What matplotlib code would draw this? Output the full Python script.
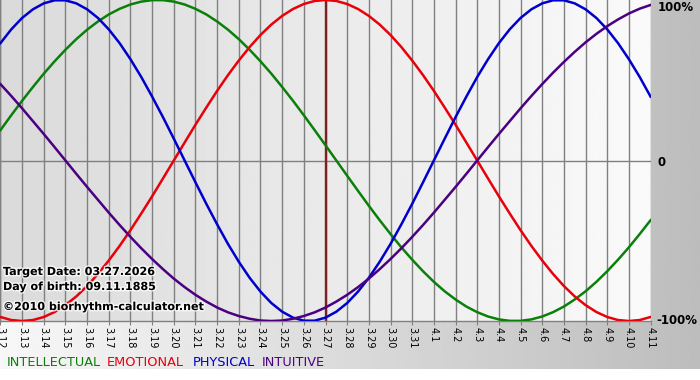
import matplotlib.pyplot as plt
import matplotlib.patheffects as pe
import numpy as np

# DATA (-1..1), one value per day 3.12 .. 4.11
days = ["3.12", "3.13", "3.14", "3.15", "3.16", "3.17", "3.18", "3.19", "3.20", "3.21",
        "3.22", "3.23", "3.24", "3.25", "3.26", "3.27", "3.28", "3.29", "3.30", "3.31",
        "4.1", "4.2", "4.3", "4.4", "4.5", "4.6", "4.7", "4.8", "4.9", "4.10", "4.11"]

intellectual = [0.189, 0.372, 0.541, 0.690, 0.815, 0.910, 0.972, 0.999, 0.990, 0.945,
                0.866, 0.756, 0.618, 0.458, 0.282, 0.095, -0.095, -0.282, -0.458, -0.618,
                -0.756, -0.866, -0.945, -0.990, -0.999, -0.972, -0.910, -0.815, -0.690, -0.541,
                -0.372]
emotional = [-0.975, -1.000, -0.975, -0.901, -0.782, -0.623, -0.434, -0.223, 0.000, 0.223,
             0.434, 0.623, 0.782, 0.901, 0.975, 1.000, 0.975, 0.901, 0.782, 0.623,
             0.434, 0.223, 0.000, -0.223, -0.434, -0.623, -0.782, -0.901, -0.975, -1.000,
             -0.975]
physical = [0.731, 0.888, 0.979, 0.998, 0.942, 0.817, 0.631, 0.398, 0.136, -0.136,
            -0.398, -0.631, -0.817, -0.942, -0.998, -0.979, -0.888, -0.731, -0.520, -0.270,
            0.000, 0.270, 0.520, 0.731, 0.888, 0.979, 0.998, 0.942, 0.817, 0.631,
            0.398]
intuitive = [0.476, 0.325, 0.165, 0.000, -0.165, -0.325, -0.476, -0.614, -0.736, -0.837,
             -0.916, -0.969, -0.997, -0.997, -0.969, -0.916, -0.837, -0.736, -0.614, -0.476,
             -0.325, -0.165, 0.000, 0.165, 0.325, 0.476, 0.614, 0.736, 0.837, 0.916,
             0.969]

# values at midday (between two day lines), so the curves come out smooth
intellectual_mid = [0.282, 0.458, 0.618, 0.756, 0.866, 0.945, 0.990, 0.999, 0.972, 0.910,
                    0.815, 0.690, 0.541, 0.372, 0.189, 0.000, -0.189, -0.372, -0.541, -0.690,
                    -0.815, -0.910, -0.972, -0.999, -0.990, -0.945, -0.866, -0.756, -0.618, -0.458]
emotional_mid = [-0.994, -0.994, -0.944, -0.847, -0.707, -0.532, -0.330, -0.112, 0.112, 0.330,
                 0.532, 0.707, 0.847, 0.944, 0.994, 0.994, 0.944, 0.847, 0.707, 0.532,
                 0.330, 0.112, -0.112, -0.330, -0.532, -0.707, -0.847, -0.944, -0.994, -0.994]
physical_mid = [0.817, 0.942, 0.998, 0.979, 0.888, 0.731, 0.520, 0.270, 0.000, -0.270,
                -0.520, -0.731, -0.888, -0.979, -0.998, -0.942, -0.817, -0.631, -0.398, -0.136,
                0.136, 0.398, 0.631, 0.817, 0.942, 0.998, 0.979, 0.888, 0.731, 0.520]
intuitive_mid = [0.402, 0.245, 0.083, -0.083, -0.245, -0.402, -0.547, -0.677, -0.789, -0.879,
                 -0.946, -0.986, -1.000, -0.986, -0.946, -0.879, -0.789, -0.677, -0.547, -0.402,
                 -0.245, -0.083, 0.083, 0.245, 0.402, 0.547, 0.677, 0.789, 0.879, 0.946]

target_day = "3.27"


def merge(day_vals, mid_vals):
    # day, midday, day, midday ... -> one array at half-day steps
    out = np.empty(len(day_vals) + len(mid_vals))
    out[0::2] = day_vals
    out[1::2] = mid_vals
    return out


x = np.arange(len(days))
x_half = np.arange(2 * len(days) - 1) / 2

fig = plt.figure(figsize=(7, 3.8), dpi=100)
fig.patch.set_facecolor("white")

# grey gradient behind everything (light on the left, darker on the right)
bg = fig.add_axes([0, 11 / 380, 1, 369 / 380], zorder=-5)
bg.imshow(np.linspace(0.97, 0.74, 256).reshape(1, -1), cmap="gray", vmin=0, vmax=1,
          aspect="auto", extent=[0, 1, 0, 1])
bg.set_axis_off()

ax = fig.add_axes([0, 59 / 380, 651 / 700, 321 / 380])
ax.set_xlim(-0.02, len(days) - 1 + 0.02)
ax.set_ylim(-1, 1)

# plot area background gradient
ax.imshow(np.linspace(0.855, 0.98, 256).reshape(1, -1), cmap="gray", vmin=0, vmax=1,
          aspect="auto", extent=[-0.02, len(days) - 1 + 0.02, -1, 1], zorder=0)

ax.set_xticks(x)
ax.set_xticklabels(days, rotation=270, fontsize=7)
ax.tick_params(axis="x", length=3, color="#808080", pad=1)
ax.set_yticks([])
ax.grid(axis="x", color="#808080", lw=1, zorder=1)
ax.axhline(0, color="#808080", lw=1, zorder=1)
for s in ["top", "right"]:
    ax.spines[s].set_visible(False)
for s in ["left", "bottom"]:
    ax.spines[s].set_color("#808080")
    ax.spines[s].set_linewidth(1)

ax.axvline(days.index(target_day), color="#7f1f1f", lw=1.7, zorder=2)

ax.plot(x_half, merge(intellectual, intellectual_mid), color="#0a800a", lw=1.8, zorder=3)
ax.plot(x_half, merge(emotional, emotional_mid), color="#e8000a", lw=1.8, zorder=3)
ax.plot(x_half, merge(physical, physical_mid), color="#0000cc", lw=1.8, zorder=3)
ax.plot(x_half, merge(intuitive, intuitive_mid), color="#4b0082", lw=1.8, zorder=3)

# right hand labels
ax.text(1.01, 0.955, "100%", transform=ax.get_yaxis_transform(), fontsize=8.5,
        fontweight="bold", va="center", ha="left", clip_on=False)
ax.text(1.01, -0.015, "0", transform=ax.get_yaxis_transform(), fontsize=8.5,
        fontweight="bold", va="center", ha="left", clip_on=False)
ax.text(1.008, -1.0, "-100%", transform=ax.get_yaxis_transform(), fontsize=8.5,
        fontweight="bold", va="center", ha="left", clip_on=False)

# info text in the lower left corner
halo = [pe.withStroke(linewidth=2, foreground="white", alpha=0.8)]
fig.text(3 / 700, 1 - 272 / 380, "Target Date: 03.27.2026", fontsize=8, fontweight="bold",
         va="center", path_effects=halo)
fig.text(3 / 700, 1 - 287 / 380, "Day of birth: 09.11.1885", fontsize=8, fontweight="bold",
         va="center", path_effects=halo)
fig.text(3 / 700, 1 - 307 / 380, "\u00a92010 biorhythm-calculator.net", fontsize=8,
         fontweight="bold", va="center", path_effects=halo)

# legend under the chart
fig.text(7 / 700, 1 - 362 / 380, "INTELLECTUAL", color="#0a800a", fontsize=9.3, va="center")
fig.text(107 / 700, 1 - 362 / 380, "EMOTIONAL", color="#e8000a", fontsize=9.3, va="center")
fig.text(193 / 700, 1 - 362 / 380, "PHYSICAL", color="#0000cc", fontsize=9.3, va="center")
fig.text(262 / 700, 1 - 362 / 380, "INTUITIVE", color="#4b0082", fontsize=9.3, va="center")

fig.savefig("out.png", dpi=100)
